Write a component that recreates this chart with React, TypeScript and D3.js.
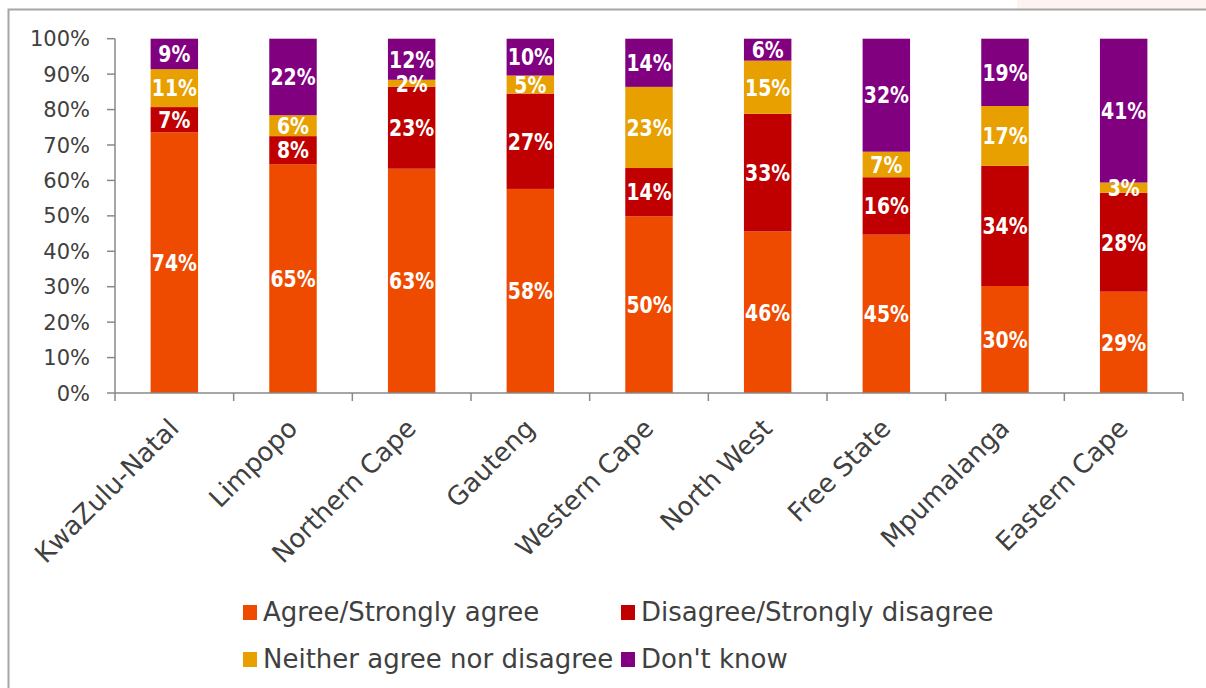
import React from "react";
import * as d3 from "d3";

const categories = ["KwaZulu-Natal","Limpopo","Northern Cape","Gauteng","Western Cape","North West","Free State","Mpumalanga","Eastern Cape"];
const agree = [73.6,64.6,63.3,57.6,49.9,45.6,44.7,30.2,28.6];
const disagree = [7.1,7.9,23.1,26.9,13.6,33.2,16.2,33.9,27.9];
const neither = [10.7,5.9,2.0,5.1,22.9,15.0,7.2,16.9,2.9];
const dontKnow = [8.6,21.6,11.6,10.4,13.6,6.2,31.9,19.0,40.6];
const seriesNames = ["Agree/Strongly agree","Disagree/Strongly disagree","Neither agree nor disagree","Don't know"];
const seriesColors = ["#EE4B00","#C00000","#E8A000","#800080"];
const yTicks = [0,10,20,30,40,50,60,70,80,90,100];

const W = 1206, H = 688;
const left = 115, right = 1183, top = 38.7, bottom = 393;
const font = "'DejaVu Sans', sans-serif";

export default function App() {
  const x = d3.scaleBand<string>().domain(categories).range([left, right]).paddingInner(0.6).paddingOuter(0.3);
  const y = d3.scaleLinear().domain([0, 100]).range([bottom, top]);
  const rows = categories.map((c, i) => ({ cat: c, s0: agree[i], s1: disagree[i], s2: neither[i], s3: dontKnow[i] }));
  const stack = d3.stack<any>().keys(["s0","s1","s2","s3"])(rows);
  const bw = x.bandwidth();
  const step = (right - left) / categories.length;
  const textColor = "#404040";
  const axisColor = "#898989";
  const legendItems = [
    { i: 0, x: 243, y: 612 },
    { i: 1, x: 621, y: 612 },
    { i: 2, x: 243, y: 659 },
    { i: 3, x: 621, y: 659 },
  ];
  return (
    <svg width={W} height={H} style={{ position: "absolute", left: 0, top: 0 }} fontFamily={font}>
      <rect x={0} y={0} width={W} height={H} fill="#fff" />
      <rect x={1017} y={0} width={189} height={9} fill="#fdf3f1" />
      <path d={`M8.5,${H} V9.5 H${W}`} fill="none" stroke="#a6a6a6" strokeWidth={2} />
      {stack.map((layer, si) => (
        <g key={si} fill={seriesColors[si]}>
          {layer.map((d, ci) => (
            <rect key={ci} x={x(categories[ci])!} y={y(d[1])} width={bw} height={y(d[0]) - y(d[1])} />
          ))}
        </g>
      ))}
      {stack.map((layer, si) => (
        <g key={"l" + si}>
          {layer.map((d, ci) => (
            <text key={ci}
              transform={`translate(${x(categories[ci])! + bw / 2},${(y(d[0]) + y(d[1])) / 2}) scale(0.82,1)`}
              dy="0.36em" textAnchor="middle" fill="#fff" fontWeight="bold" fontSize={23}>
              {Math.round(d[1] - d[0])}%
            </text>
          ))}
        </g>
      ))}
      {/* y axis */}
      <line x1={left} x2={left} y1={top} y2={bottom} stroke={axisColor} strokeWidth={1.5} />
      {yTicks.map(t => (
        <g key={t}>
          <line x1={left - 8} x2={left} y1={y(t)} y2={y(t)} stroke={axisColor} strokeWidth={1.5} />
          <text x={90} y={y(t)} dy="0.36em" textAnchor="end" fill={textColor} fontSize={21}>{t}%</text>
        </g>
      ))}
      {/* x axis */}
      <line x1={left} x2={right} y1={bottom} y2={bottom} stroke={axisColor} strokeWidth={1.5} />
      {d3.range(categories.length + 1).map(i => (
        <line key={i} x1={left + i * step} x2={left + i * step} y1={bottom} y2={bottom + 8} stroke={axisColor} strokeWidth={1.5} />
      ))}
      {categories.map(c => {
        const cx = x(c)! + bw / 2 + 6;
        const cy = bottom + 37;
        return (
          <text key={c} transform={`translate(${cx},${cy}) rotate(-45)`} textAnchor="end" fill={textColor} fontSize={26}>{c}</text>
        );
      })}
      {legendItems.map(l => (
        <g key={l.i}>
          <rect x={l.x} y={l.y - 7} width={14} height={15} fill={seriesColors[l.i]} />
          <text x={l.x + 20} y={l.y} dy="0.36em" fill={textColor} fontSize={26}>{seriesNames[l.i]}</text>
        </g>
      ))}
    </svg>
  );
}
